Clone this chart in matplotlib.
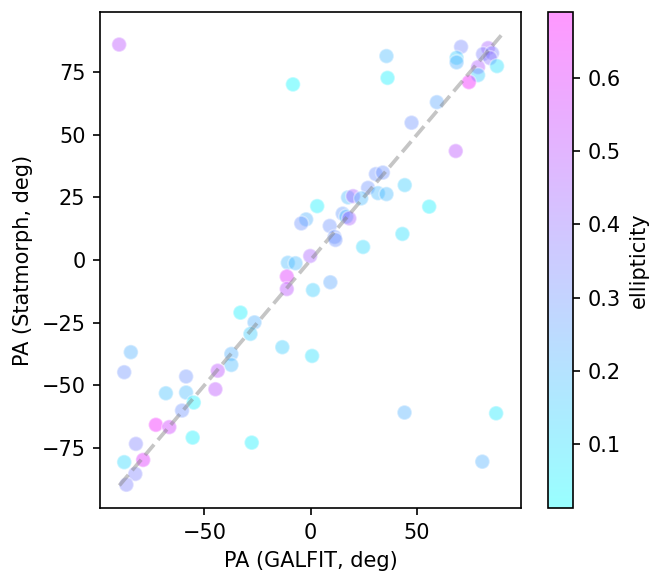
import matplotlib
matplotlib.use("Agg")
import matplotlib.pyplot as plt
import numpy as np

pa_galfit = [-90.1, -8.3, 35.7, 36.2, 70.8, 68.7, 68.7, 83.5, 81.1, 85.4, 84.4, 87.7, 78.8, 78.8,
             74.5, 59.4, 47.5, 68.3, 44.3, 55.8, 43.2, 30.7, 34.0, 27.0, 31.7, 35.7, 17.6, 20.0,
             23.8, 3.1, -2.1, -4.4, 15.1, 16.8, 18.2, 9.0, 11.3, 11.7, 24.7, -0.2, -10.7, -7.1,
             -11.2, -11.2, 1.1, 9.3, -33.0, -26.4, -28.3, -13.3, 0.7, -37.3, -37.3, -84.6, -87.7,
             -43.7, -44.8, -58.6, -58.6, -68.1, -55.0, -60.5, -72.8, -66.5, -55.5, -27.7, -82.2,
             -87.7, -78.8, -82.5, -86.7, 44.2, 87.3, 80.8]
pa_statmorph = [86.0, 70.1, 81.4, 72.7, 85.1, 80.7, 78.9, 84.6, 82.2, 82.6, 80.6, 77.4, 77.0, 73.8,
                71.0, 63.0, 54.8, 43.5, 29.9, 21.3, 10.4, 34.3, 34.9, 28.8, 26.7, 26.3, 25.0, 25.5,
                24.6, 21.5, 16.2, 14.6, 18.5, 17.3, 16.6, 13.6, 9.2, 8.0, 5.2, 1.6, -1.1, -1.3,
                -6.6, -11.6, -12.0, -8.9, -21.0, -24.9, -29.5, -34.8, -38.3, -37.5, -41.9, -36.8, -44.8,
                -44.2, -51.6, -46.5, -52.9, -53.2, -56.9, -60.1, -65.8, -66.7, -70.9, -72.9, -73.4,
                -80.7, -79.8, -85.4, -89.7, -60.9, -61.2, -80.5]
ellipticity = [0.5, 0.03, 0.2, 0.05, 0.33, 0.15, 0.22, 0.45, 0.35, 0.35, 0.38, 0.1, 0.47, 0.15,
               0.65, 0.25, 0.3, 0.5, 0.15, 0.05, 0.1, 0.3, 0.3, 0.3, 0.2, 0.2, 0.2, 0.45,
               0.2, 0.05, 0.22, 0.3, 0.28, 0.2, 0.45, 0.3, 0.3, 0.3, 0.12, 0.45, 0.2, 0.2,
               0.6, 0.5, 0.15, 0.25, 0.05, 0.22, 0.15, 0.15, 0.1, 0.22, 0.2, 0.22, 0.3,
               0.5, 0.5, 0.3, 0.2, 0.18, 0.05, 0.3, 0.65, 0.55, 0.05, 0.05, 0.35,
               0.12, 0.6, 0.35, 0.35, 0.22, 0.07, 0.22]
line_ends = [-90, 90]
e_min, e_max = 0.013, 0.69

W, H, DPI = 652, 571, 150
fig = plt.figure(figsize=(W / DPI, H / DPI), dpi=DPI)
ax = fig.add_axes([100 / W, 1 - 508 / H, 421 / W, 496 / H])
cax = fig.add_axes([548 / W, 1 - 508 / H, 25 / W, 496 / H])

sc = ax.scatter(pa_galfit, pa_statmorph, c=ellipticity, cmap="cool", vmin=e_min, vmax=e_max,
                s=50, alpha=0.4, edgecolors="white", linewidths=0.8)
ax.plot(line_ends, line_ends, ls="--", color="gray", alpha=0.45, lw=1.8)
ax.set_xlabel("PA (GALFIT, deg)")
ax.set_ylabel("PA (Statmorph, deg)")
ax.set_xticks([-50, 0, 50])
ax.set_yticks([-75, -50, -25, 0, 25, 50, 75])

cb = fig.colorbar(sc, cax=cax)
cb.set_label("ellipticity")
cb.set_ticks([0.1, 0.2, 0.3, 0.4, 0.5, 0.6])

fig.savefig("out.png", dpi=DPI)
